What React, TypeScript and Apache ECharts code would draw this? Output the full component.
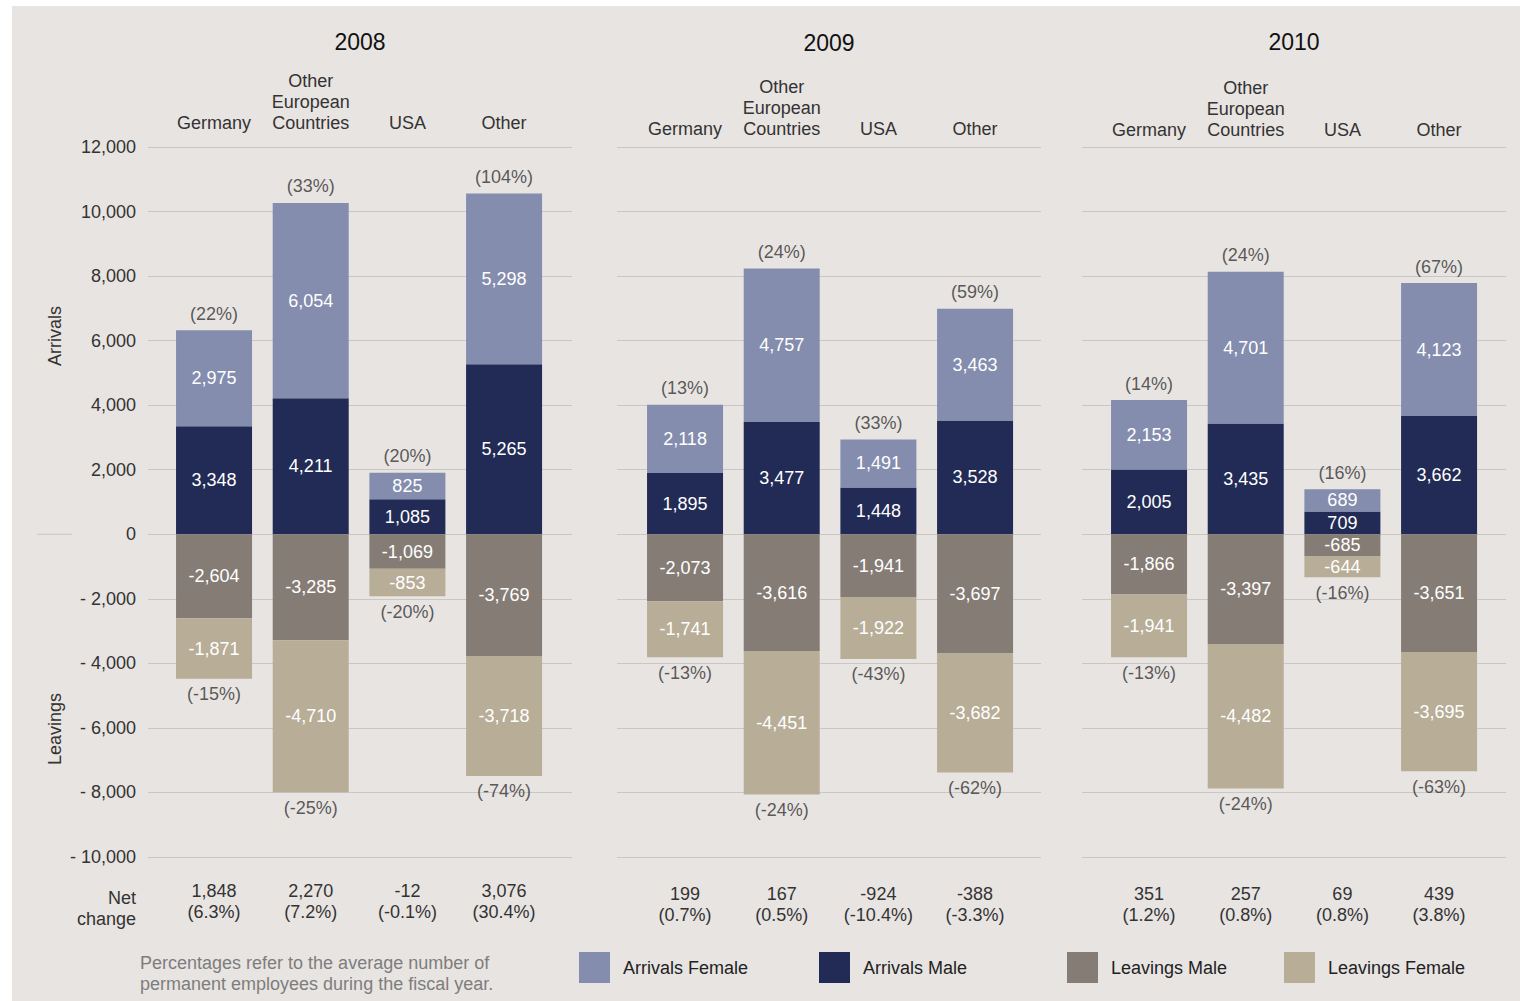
import React, { useEffect, useRef } from "react";
import * as echarts from "echarts";

const years = ["2008", "2009", "2010"];
const regions = ["Germany", "Other\nEuropean\nCountries", "USA", "Other"];
const legendOrder = ["Arrivals Female", "Arrivals Male", "Leavings Male", "Leavings Female"];

const arrivalsMale = [
  [3348, 4211, 1085, 5265],
  [1895, 3477, 1448, 3528],
  [2005, 3435, 709, 3662],
];
const arrivalsFemale = [
  [2975, 6054, 825, 5298],
  [2118, 4757, 1491, 3463],
  [2153, 4701, 689, 4123],
];
const leavingsMale = [
  [-2604, -3285, -1069, -3769],
  [-2073, -3616, -1941, -3697],
  [-1866, -3397, -685, -3651],
];
const leavingsFemale = [
  [-1871, -4710, -853, -3718],
  [-1741, -4451, -1922, -3682],
  [-1941, -4482, -644, -3695],
];
const arrivalsPct = [
  ["22%", "33%", "20%", "104%"],
  ["13%", "24%", "33%", "59%"],
  ["14%", "24%", "16%", "67%"],
];
const leavingsPct = [
  ["-15%", "-25%", "-20%", "-74%"],
  ["-13%", "-24%", "-43%", "-62%"],
  ["-13%", "-24%", "-16%", "-63%"],
];
const netChange = [
  [1848, 2270, -12, 3076],
  [199, 167, -924, -388],
  [351, 257, 69, 439],
];
const netPct = [
  ["6.3%", "7.2%", "-0.1%", "30.4%"],
  ["0.7%", "0.5%", "-10.4%", "-3.3%"],
  ["1.2%", "0.8%", "0.8%", "3.8%"],
];
const yMin = -10000;
const yMax = 12000;
const yStep = 2000;

const colors: Record<string, string> = {
  "Arrivals Female": "#848dae",
  "Arrivals Male": "#222b55",
  "Leavings Male": "#857c75",
  "Leavings Female": "#b8ad97",
};

const FONT = "'Liberation Sans', Arial, sans-serif";
const FS = 18;
const GRID_TOP = 147;
const GRID_H = 710;
const panelLines = [
  [148, 572],
  [617, 1041],
  [1082, 1506],
];
const panelBars = [165.7, 636.7, 1100.7];
const BAR_AREA_W = 386.7;
const catMargin = [13.5, 7.5, 6.5];
const netMargin = [23.5, 26.5, 26.5];
const titleY = [42, 43, 42];
const legendX = [579, 819, 1067, 1284];

const fmt = (v: number) => v.toLocaleString("en-US");

function buildOption() {
  const grids: any[] = [];
  const xAxes: any[] = [];
  const yAxes: any[] = [];
  const series: any[] = [];

  panelLines.forEach(([l, r], p) => {
    grids.push({ left: l, top: GRID_TOP, width: r - l, height: GRID_H });
    xAxes.push({ type: "value", gridIndex: p, show: false, min: 0, max: 1 });
    yAxes.push({
      type: "value",
      gridIndex: p,
      min: yMin,
      max: yMax,
      interval: yStep,
      axisLine: { show: false },
      axisTick: { show: false },
      splitLine: { show: true, lineStyle: { color: "#c9c6c4", width: 1 } },
      axisLabel: {
        show: p === 0,
        margin: 12,
        fontSize: FS,
        color: "#333",
        fontFamily: FONT,
        formatter: (v: number) => (v < 0 ? "- " + fmt(-v) : fmt(v)),
      },
    });
  });

  panelBars.forEach((l, p) => {
    grids.push({ left: l, top: GRID_TOP, width: BAR_AREA_W, height: GRID_H });
    yAxes.push({ type: "value", gridIndex: 3 + p, min: yMin, max: yMax, interval: yStep, show: false });
  });
  panelBars.forEach((_, p) => {
    xAxes.push({
      type: "category",
      gridIndex: 3 + p,
      position: "top",
      data: regions,
      axisLine: { show: false },
      axisTick: { show: false },
      axisLabel: {
        interval: 0,
        margin: catMargin[p],
        fontSize: FS,
        lineHeight: 21,
        color: "#333",
        fontFamily: FONT,
      },
    });
  });
  panelBars.forEach((_, p) => {
    xAxes.push({
      type: "category",
      gridIndex: 3 + p,
      position: "bottom",
      data: netChange[p].map((v, i) => `${fmt(v)}\n(${netPct[p][i]})`),
      axisLine: { show: false },
      axisTick: { show: false },
      axisLabel: {
        interval: 0,
        margin: netMargin[p],
        fontSize: FS,
        lineHeight: 21,
        color: "#333",
        fontFamily: FONT,
      },
    });
  });

  panelBars.forEach((_, p) => {
    const sets: [string, number[]][] = [
      ["Arrivals Male", arrivalsMale[p]],
      ["Arrivals Female", arrivalsFemale[p]],
      ["Leavings Male", leavingsMale[p]],
      ["Leavings Female", leavingsFemale[p]],
    ];
    sets.forEach(([name, data]) => {
      series.push({
        type: "bar",
        name,
        xAxisIndex: 3 + p,
        yAxisIndex: 3 + p,
        stack: "s" + p,
        barWidth: 76,
        data,
        itemStyle: { color: colors[name] },
        label: {
          show: true,
          position: "inside",
          color: "#fff",
          fontSize: FS,
          fontFamily: FONT,
          formatter: (prm: any) => fmt(prm.value),
        },
      });
    });
    series.push({
      type: "scatter",
      name: "arrPct" + p,
      xAxisIndex: 3 + p,
      yAxisIndex: 3 + p,
      symbolSize: 1,
      itemStyle: { color: "rgba(0,0,0,0)" },
      silent: true,
      data: arrivalsMale[p].map((v, i) => v + arrivalsFemale[p][i]),
      label: {
        show: true,
        position: "top",
        distance: 7,
        color: "#333",
        fontSize: FS,
        fontFamily: FONT,
        formatter: (prm: any) => `(${arrivalsPct[p][prm.dataIndex]})`,
      },
    });
    series.push({
      type: "scatter",
      name: "leavPct" + p,
      xAxisIndex: 3 + p,
      yAxisIndex: 3 + p,
      symbolSize: 1,
      itemStyle: { color: "rgba(0,0,0,0)" },
      silent: true,
      data: leavingsMale[p].map((v, i) => v + leavingsFemale[p][i]),
      label: {
        show: true,
        position: "bottom",
        distance: 6,
        color: "#333",
        fontSize: FS,
        fontFamily: FONT,
        formatter: (prm: any) => `(${leavingsPct[p][prm.dataIndex]})`,
      },
    });
  });

  const zeroY = GRID_TOP + (GRID_H * yMax) / (yMax - yMin);

  const graphic: any[] = [
    ...years.map((yr, p) => ({
      type: "text",
      x: (panelLines[p][0] + panelLines[p][1]) / 2,
      y: titleY[p],
      style: {
        text: yr,
        fontSize: 23,
        fontFamily: FONT,
        fill: "#111",
        align: "center",
        verticalAlign: "middle",
      },
    })),
    {
      type: "text",
      x: 55,
      y: 336,
      rotation: Math.PI / 2,
      style: { text: "Arrivals", fontSize: FS, fontFamily: FONT, fill: "#333", align: "center", verticalAlign: "middle" },
    },
    {
      type: "text",
      x: 55,
      y: 729,
      rotation: Math.PI / 2,
      style: { text: "Leavings", fontSize: FS, fontFamily: FONT, fill: "#333", align: "center", verticalAlign: "middle" },
    },
    {
      type: "text",
      x: 136,
      y: 887.5,
      style: {
        text: "Net\nchange",
        fontSize: FS,
        lineHeight: 21,
        fontFamily: FONT,
        fill: "#333",
        align: "right",
        verticalAlign: "top",
      },
    },
    {
      type: "text",
      x: 140,
      y: 952.5,
      style: {
        text: "Percentages refer to the average number of\npermanent employees during the fiscal year.",
        fontSize: FS,
        lineHeight: 21,
        fontFamily: FONT,
        fill: "#7d7d7d",
        align: "left",
        verticalAlign: "top",
      },
    },
    {
      type: "line",
      shape: { x1: 37, y1: zeroY, x2: 72, y2: zeroY },
      style: { stroke: "#c9c6c4", lineWidth: 1 },
    },
  ];

  const legends = legendOrder.map((name, i) => ({
    data: [{ name, icon: "rect" }],
    left: legendX[i],
    top: 952,
    itemWidth: 31,
    itemHeight: 31,
    padding: 0,
    selectedMode: false,
    textStyle: { fontSize: 18, color: "#222", fontFamily: FONT, padding: [3, 0, 0, 8] },
  }));

  return {
    animation: false,
    backgroundColor: "transparent",
    textStyle: { fontFamily: FONT },
    grid: grids,
    xAxis: xAxes,
    yAxis: yAxes,
    series,
    legend: legends,
    graphic,
  };
}

export default function App() {
  const ref = useRef<HTMLDivElement>(null);
  useEffect(() => {
    const chart = echarts.init(ref.current!, null, { renderer: "svg" });
    chart.setOption(buildOption() as any);
    return () => chart.dispose();
  }, []);
  return (
    <div style={{ position: "fixed", left: 0, top: 0, width: 1520, height: 1001, background: "#fff" }}>
      <div style={{ position: "absolute", left: 12, top: 6, width: 1508, height: 995, background: "#e8e4e2" }} />
      <div ref={ref} style={{ position: "absolute", left: 0, top: 0, width: 1520, height: 1001 }} />
    </div>
  );
}
